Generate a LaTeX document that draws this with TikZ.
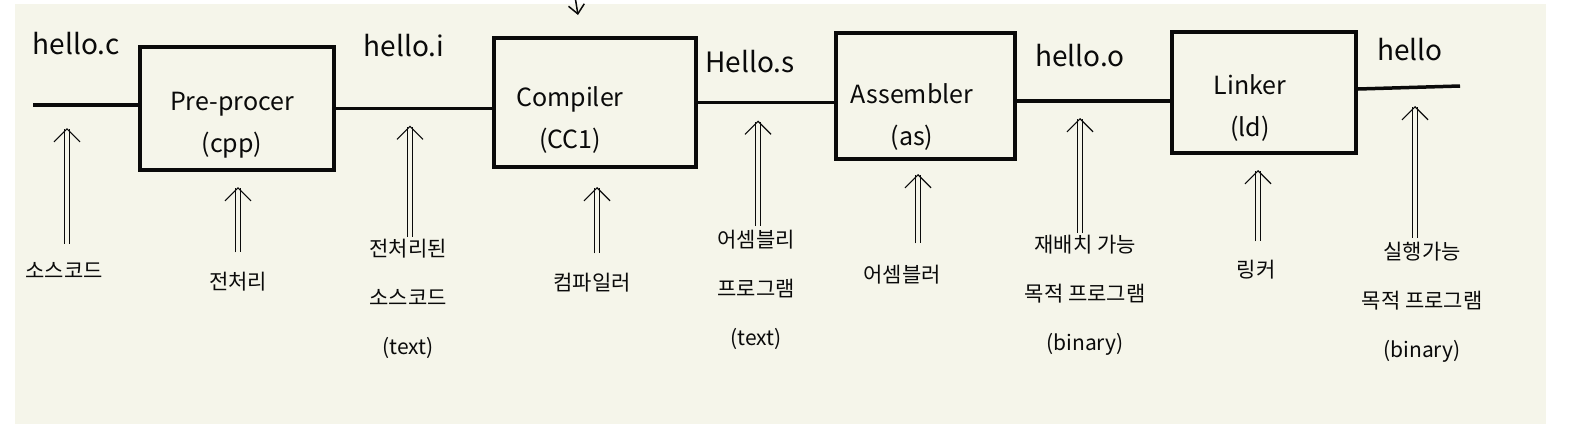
\documentclass[tikz,border=0pt]{standalone}
\usepackage{fontspec}
\setmainfont{Noto Sans CJK KR}
\usetikzlibrary{arrows.meta}

\definecolor{papercolor}{RGB}{245,245,234}
\definecolor{inkcolor}{RGB}{10,10,10}

\tikzset{
  stagebox/.style={draw=inkcolor, line width=4pt, inner sep=0pt},
  stagetext/.style={align=center, text=inkcolor, font=\fontsize{25}{42}\selectfont},
  flowline/.style={draw=inkcolor, line width=3.5pt},
  filelabel/.style={text=inkcolor, font=\fontsize{28}{32}\selectfont},
  notelabel/.style={align=center, text=inkcolor, inner sep=2pt, font=\fontsize{21}{49}\selectfont},
  uparrow/.style={draw=inkcolor, double=papercolor, double distance=4.5pt, line width=1pt,
    -{Straight Barb[length=13pt,width=26pt,line width=1.2pt]}},
}

\begin{document}
\begin{tikzpicture}[x=1pt,y=-1pt]
% paper
\fill[white] (0,0) rectangle (1574,440);
\useasboundingbox (0,0) rectangle (1574,440);
\fill[papercolor] (15,4) rectangle (1546,424);

% stages
\node[stagebox, minimum width=194pt, minimum height=123pt] (pre) at (237,108.5) {};
\node[stagebox, minimum width=202pt, minimum height=129pt] (comp) at (595,102.5) {};
\node[stagebox, minimum width=179pt, minimum height=126pt] (asm) at (925.5,96) {};
\node[stagebox, minimum width=184pt, minimum height=121pt] (link) at (1264,92.5) {};

\node[stagetext] (pretext) at (232,125) {Pre-procer\\(cpp)};
\node[stagetext] (comptext) at (570,120) {Compiler\\(CC1)};
\node[stagetext] (asmtext) at (912,117) {Assembler\\(as)};
\node[stagetext] (linktext) at (1250,108) {Linker\\(ld)};

% flow
\coordinate (in) at (33,105);
\coordinate (out) at (1460,86);
\draw[flowline] (in) -- (pre.west |- in);
\draw[flowline] (pre.east) -- (comp.west |- pre.east);
\draw[flowline] (comp.east) -- (asm.west |- comp.east);
\draw[flowline] (asm.east |- 0,101) -- (link.west |- 0,101);
\draw[flowline] (link.east |- 0,89) -- (out);

% file names
\node[filelabel] (hc) at (76,44) {hello.c};
\node[filelabel] (hi) at (404,46) {hello.i};
\node[filelabel] (hs) at (750,62) {Hello.s};
\node[filelabel] (ho) at (1080,56) {hello.o};
\node[filelabel] (hx) at (1410,50) {hello};

% notes
\node[notelabel] (srcnote) at (64,270) {소스코드};
\node[notelabel] (ppnote) at (238,282) {전처리};
\node[notelabel] (ppsrcnote) at (408,299) {전처리된\\소스코드\\(text)};
\node[notelabel] (ccnote) at (592,283) {컴파일러};
\node[notelabel] (asmsrcnote) at (756,290) {어셈블리\\프로그램\\(text)};
\node[notelabel] (asnote) at (902,275) {어셈블러};
\node[notelabel] (objnote) at (1085,295) {재배치 가능\\목적 프로그램\\(binary)};
\node[notelabel] (ldnote) at (1256,270) {링커};
\node[notelabel] (exenote) at (1422,302) {실행가능\\목적 프로그램\\(binary)};

% up arrows
\draw[uparrow, shorten <=16pt, shorten >=23pt] ([xshift=3pt]srcnote.north) -- ([xshift=3pt]srcnote.north |- in);
\draw[uparrow, shorten <=18pt, shorten >=15pt] (ppnote.north) -- (ppnote.north |- pre.south);
\draw[uparrow, shorten <=0pt, shorten >=17pt] ([xshift=2pt]ppsrcnote.north) -- ([xshift=2pt]ppsrcnote.north |- pre.east);
\draw[uparrow, shorten <=18pt, shorten >=18pt] ([xshift=5pt]ccnote.north) -- ([xshift=5pt]ccnote.north |- comp.south);
\draw[uparrow, shorten <=2pt, shorten >=18pt] ([xshift=2pt]asmsrcnote.north) -- ([xshift=2pt]asmsrcnote.north |- comp.east);
\draw[uparrow, shorten <=20pt, shorten >=13pt] ([xshift=16pt]asnote.north) -- ([xshift=16pt]asnote.north |- asm.south);
\draw[uparrow, shorten <=0pt, shorten >=17pt] ([xshift=-5pt]objnote.north) -- ([xshift=-5pt]objnote.north |- 0,101);
\draw[uparrow, shorten <=17pt, shorten >=15pt] ([xshift=2pt]ldnote.north) -- ([xshift=2pt]ldnote.north |- link.south);
\draw[uparrow, shorten <=2pt, shorten >=20pt] ([xshift=-7pt]exenote.north) -- ([xshift=-7pt]exenote.north |- out);

% cut-off arrow at the top
\coordinate (topstart) at (574,-10);
\coordinate (toptip) at (578,15);
\draw[draw=inkcolor, line width=1.5pt, -{Straight Barb[length=9pt,width=16pt]}] (topstart) -- (toptip);
\end{tikzpicture}
\end{document}
